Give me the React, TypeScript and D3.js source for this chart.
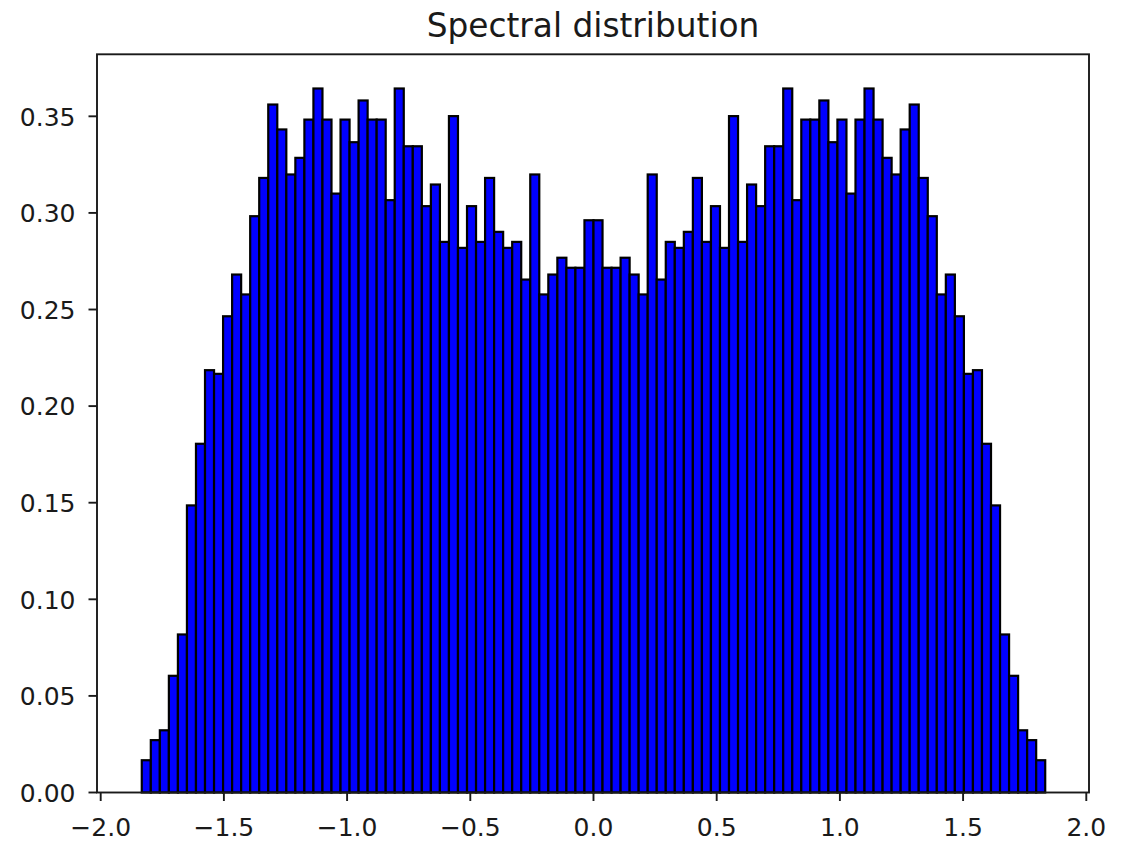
import * as d3 from 'd3';
import React from 'react';

// histogram of eigenvalues, density per bin
const binLow = -1.8333;
const binHigh = 1.8333;
const density = [
    0.0167, 0.0271, 0.0322, 0.0604, 0.0818, 0.1486, 0.1805, 0.2186, 0.2167, 0.2465,
    0.2681, 0.2578, 0.2983, 0.3181, 0.3561, 0.3432, 0.3199, 0.3285, 0.3483, 0.3644,
    0.3483, 0.3100, 0.3483, 0.3366, 0.3582, 0.3483, 0.3483, 0.3066, 0.3644, 0.3345,
    0.3345, 0.3035, 0.3147, 0.2850, 0.3501, 0.2819, 0.3035, 0.2850, 0.3181, 0.2902,
    0.2819, 0.2850, 0.2655, 0.3199, 0.2578, 0.2681, 0.2768, 0.2716, 0.2716, 0.2962,
    0.2962, 0.2716, 0.2716, 0.2768, 0.2681, 0.2578, 0.3199, 0.2655, 0.2850, 0.2819,
    0.2902, 0.3181, 0.2850, 0.3035, 0.2819, 0.3501, 0.2850, 0.3147, 0.3035, 0.3345,
    0.3345, 0.3644, 0.3066, 0.3483, 0.3483, 0.3582, 0.3366, 0.3483, 0.3100, 0.3483,
    0.3644, 0.3483, 0.3285, 0.3199, 0.3432, 0.3561, 0.3181, 0.2983, 0.2578, 0.2681,
    0.2465, 0.2167, 0.2186, 0.1805, 0.1486, 0.0818, 0.0604, 0.0322, 0.0271, 0.0167,
];

const xTicks = [-2.0, -1.5, -1.0, -0.5, 0.0, 0.5, 1.0, 1.5, 2.0];
const xTickLabels = ['\u22122.0', '\u22121.5', '\u22121.0', '\u22120.5', '0.0', '0.5', '1.0', '1.5', '2.0'];
const yTicks = [0.0, 0.05, 0.1, 0.15, 0.2, 0.25, 0.3, 0.35];
const yTickLabels = ['0.00', '0.05', '0.10', '0.15', '0.20', '0.25', '0.30', '0.35'];

const title = 'Spectral distribution';

const params = {
    width: 1122,
    height: 854,
    left: 97,
    right: 1089,
    top: 54.3,
    bottom: 792.5,
    tickLen: 8.5,
    font: '"DejaVu Sans", sans-serif',
    tickFont: 25,
    titleFont: 32.8,
    textColor: '#1a1a1a',
};

export default function App() {
    const x = d3.scaleLinear().domain([-2.015, 2.011]).range([params.left, params.right]);
    const y = d3.scaleLinear().domain([0, 0.3821]).range([params.bottom, params.top]);

    const step = (binHigh - binLow) / density.length;
    const bins = density.map((v, i) => ({ x0: binLow + i * step, x1: binLow + (i + 1) * step, v }));

    return (
        <svg width={params.width} height={params.height}
            style={{ position: 'absolute', left: 0, top: 0, display: 'block', background: '#fff' }}
            fontFamily={params.font}>
            <rect x={0} y={0} width={params.width} height={params.height} fill="#fff" />
            <g>
                {bins.map((b, i) => (
                    <rect key={i}
                        x={x(b.x0)}
                        y={y(b.v)}
                        width={x(b.x1) - x(b.x0)}
                        height={y(0) - y(b.v)}
                        fill="#0000ff"
                        stroke="#000"
                        strokeWidth={2.2} />
                ))}
            </g>
            {/* frame */}
            <rect x={params.left} y={params.top} width={params.right - params.left} height={params.bottom - params.top}
                fill="none" stroke="#1a1a1a" strokeWidth={1.9} />
            {/* x axis */}
            <g>
                {xTicks.map((t, i) => (
                    <g key={t} transform={`translate(${x(t)},${params.bottom})`}>
                        <line y1={0} y2={params.tickLen} stroke="#1a1a1a" strokeWidth={1.9} />
                        <text y={43} textAnchor="middle" fontSize={params.tickFont} fill={params.textColor}>{xTickLabels[i]}</text>
                    </g>
                ))}
            </g>
            {/* y axis */}
            <g>
                {yTicks.map((t, i) => (
                    <g key={t} transform={`translate(${params.left},${y(t)})`}>
                        <line x1={0} x2={-params.tickLen} stroke="#1a1a1a" strokeWidth={1.9} />
                        <text x={-21.5} y={9.2} textAnchor="end" fontSize={params.tickFont} fill={params.textColor}>{yTickLabels[i]}</text>
                    </g>
                ))}
            </g>
            <text x={(params.left + params.right) / 2} y={36.7} textAnchor="middle" fontSize={params.titleFont} fill={params.textColor}>{title}</text>
        </svg>
    );
}
